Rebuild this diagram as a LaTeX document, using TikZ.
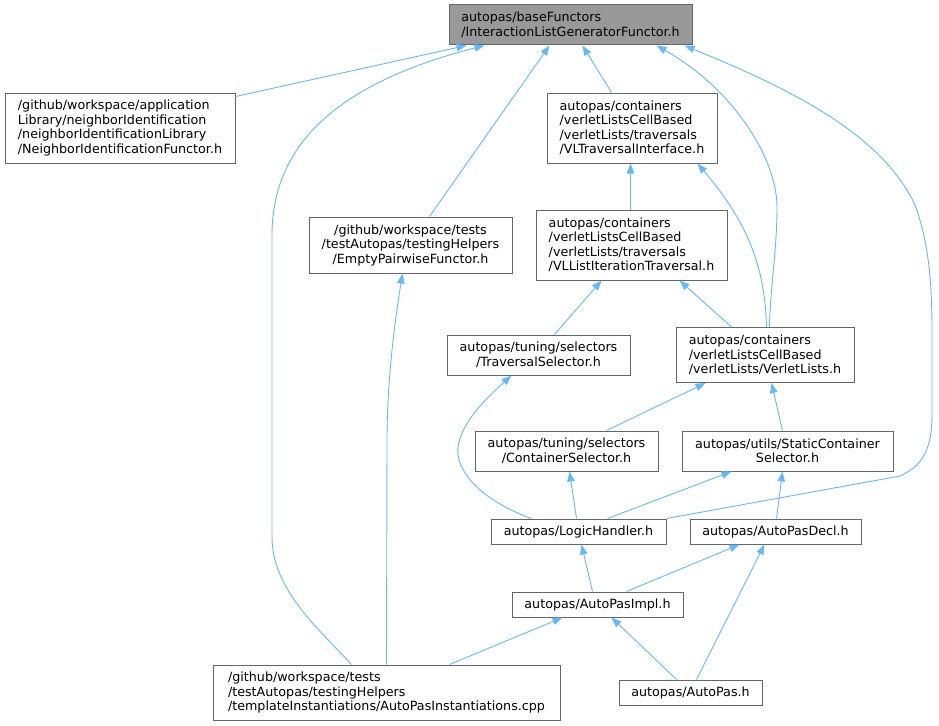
\documentclass[tikz,border=0pt]{standalone}
\usepackage{fontspec}
\setmainfont{DejaVu Sans}
\usetikzlibrary{arrows.meta}
\definecolor{edgeblue}{HTML}{63B8FF}
\definecolor{boxgray}{HTML}{666666}
\definecolor{rootfill}{HTML}{999999}
\begin{document}
\begin{tikzpicture}[x=1pt,y=-1pt,
  box/.style={draw=boxgray,line width=1pt,fill=white,inner sep=0pt,anchor=center,
    font=\fontsize{12.7}{14.5}\selectfont,text=black},
  lbox/.style={box,align=left},
  cbox/.style={box,align=center},
  edge/.style={draw=edgeblue,line width=0.9pt,-{Triangle[length=10pt,width=7.5pt]}}]
\useasboundingbox (0,0) rectangle (939,725);

% nodes
\node[lbox,fill=rootfill,minimum width=243pt,minimum height=40pt] (root) at (570.5,25) {autopas/baseFunctors\\/InteractionListGeneratorFunctor.h};
\node[lbox,minimum width=230pt,minimum height=70pt] (nif) at (120,128) {/github/workspace/application\\Library/neighborIdentification\\/neighborIdentificationLibrary\\/NeighborIdentificationFunctor.h};
\node[lbox,minimum width=170pt,minimum height=70pt] (vlti) at (632,128) {autopas/containers\\/verletListsCellBased\\/verletLists/traversals\\/VLTraversalInterface.h};
\node[cbox,minimum width=203pt,minimum height=56pt] (epf) at (410.5,245) {/github/workspace/tests\\/testAutopas/testingHelpers\\/EmptyPairwiseFunctor.h};
\node[lbox,minimum width=191pt,minimum height=70pt] (vllit) at (631.5,245) {autopas/containers\\/verletListsCellBased\\/verletLists/traversals\\/VLListIterationTraversal.h};
\node[cbox,minimum width=183pt,minimum height=40pt] (ts) at (538.5,355) {autopas/tuning/selectors\\/TraversalSelector.h};
\node[lbox,minimum width=178pt,minimum height=55pt] (vl) at (765,355) {autopas/containers\\/verletListsCellBased\\/verletLists/VerletLists.h};
\node[cbox,minimum width=183pt,minimum height=40pt] (cs) at (566.5,451) {autopas/tuning/selectors\\/ContainerSelector.h};
\node[cbox,minimum width=211pt,minimum height=40pt] (scs) at (787.5,451) {autopas/utils/StaticContainer\\Selector.h};
\node[cbox,minimum width=175pt,minimum height=25pt] (lh) at (578.5,531.5) {autopas/LogicHandler.h};
\node[cbox,minimum width=171pt,minimum height=25pt] (apd) at (775.5,531.5) {autopas/AutoPasDecl.h};
\node[cbox,minimum width=171pt,minimum height=25pt] (api) at (597.5,604.5) {autopas/AutoPasImpl.h};
\node[lbox,minimum width=347pt,minimum height=55pt] (tia) at (386.5,692.5) {/github/workspace/tests\\/testAutopas/testingHelpers\\/templateInstantiations/AutoPasInstantiations.cpp};
\node[cbox,minimum width=143pt,minimum height=25pt] (ap) at (690.5,692.5) {autopas/AutoPas.h};

% edges
\draw[edge] ([yshift=-4pt]nif.north east) -- ([xshift=18pt]root.south west);
\draw[edge] ([xshift=139pt]tia.north west) .. controls (320,630) and (272,590) .. (272,537)
  -- (272,235) .. controls (272,150) and (330,85) .. ([xshift=36pt]root.south west);
\draw[edge] ([xshift=121pt]epf.north west) -- ([xshift=101pt]root.south west);
\draw[edge] ([xshift=65pt]vlti.north west) -- ([xshift=134pt]root.south west);
\draw[edge] ([xshift=94pt]vl.north west) .. controls (770,290) and (777,250) .. (777,207)
  .. controls (777,160) and (735,90) .. ([xshift=208pt]root.south west);
\draw[edge] (lh.north east) -- (900,476) .. controls (928,464) and (932,440) .. (932,413)
  -- (932,330) .. controls (932,270) and (926,235) .. (915,205)
  .. controls (880,130) and (780,85) .. ([xshift=236pt]root.south west);
\draw[edge] ([xshift=95pt]vllit.north west) -- ([xshift=84pt]vlti.south west);
\draw[edge] ([xshift=91pt]vl.north west) .. controls (765,270) and (750,225) .. ([xshift=151pt]vlti.south west);
\draw[edge] ([xshift=108pt]ts.north west) -- ([xshift=66pt]vllit.south west);
\draw[edge] ([xshift=56pt]vl.north west) -- ([xshift=144pt]vllit.south west);
\draw[edge] ([xshift=41pt]lh.north west) .. controls (480,500) and (455,470) .. (458,447)
  .. controls (462,420) and (490,395) .. ([xshift=65pt]ts.south west);
\draw[edge] ([xshift=132pt]cs.north west) -- ([xshift=30pt]vl.south west);
\draw[edge] ([xshift=101pt]scs.north west) -- ([xshift=96pt]vl.south west);
\draw[edge] ([xshift=86pt]lh.north west) -- ([xshift=95pt]cs.south west);
\draw[edge] ([xshift=117pt]lh.north west) -- ([xshift=50pt]scs.south west);
\draw[edge] ([xshift=87pt]apd.north west) -- ([xshift=101pt]scs.south west);
\draw[edge] ([xshift=81pt]api.north west) -- ([xshift=91pt]lh.south west);
\draw[edge] ([xshift=115pt]api.north west) -- ([xshift=50pt]apd.south west);
\draw[edge] ([xshift=174pt]tia.north west) -- (387,440) .. controls (387,380) and (395,320) .. ([xshift=94pt]epf.south west);
\draw[edge] ([xshift=237pt]tia.north west) -- ([xshift=51pt]api.south west);
\draw[edge] ([xshift=58pt]ap.north west) -- ([xshift=100pt]api.south west);
\draw[edge] ([xshift=78pt]ap.north west) -- ([xshift=75pt]apd.south west);
\end{tikzpicture}
\end{document}
